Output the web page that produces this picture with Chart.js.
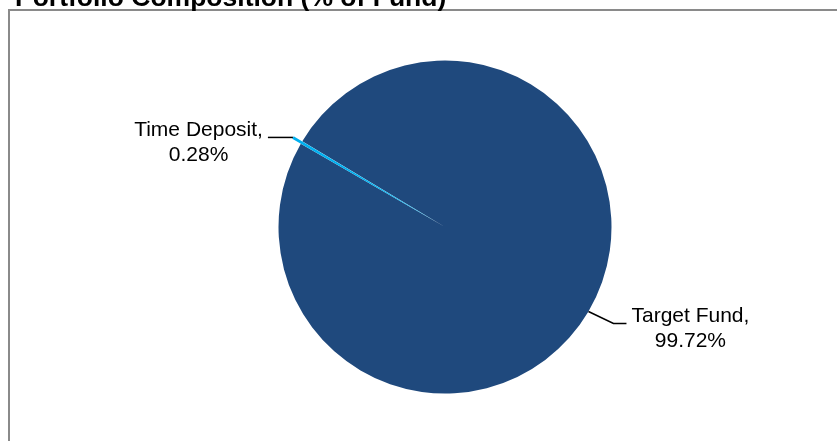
<!DOCTYPE html>
<html>
<head>
<meta charset="utf-8">
<script src="https://cdn.jsdelivr.net/npm/chart.js@4.4.1/dist/chart.umd.min.js"></script>
<style>
  html, body { margin: 0; padding: 0; background: #fff; overflow: hidden; }
  #wrap { position: relative; width: 837px; height: 441px; overflow: hidden; }
  #frame { position: absolute; left: 8px; top: 9px; width: 900px; height: 500px;
           border-left: 2px solid #8a8a8a; border-top: 2px solid #8a8a8a; }
  #chart { position: absolute; left: 0; top: 0; }
</style>
</head>
<body>
<div id="wrap">
  <div id="frame"></div>
  <canvas id="chart" width="837" height="441"></canvas>
</div>
<script>
const chartTitle = 'Portfolio Composition (% of Fund)';
const assetNames = ['Target Fund', 'Time Deposit'];
const assetShares = [99.72, 0.28];
const sliceColors = ['#1F497D', '#00B0F0'];

const FONT = '"Liberation Sans", Arial, sans-serif';
const pullOut = [0, 10];                // px the slice is moved out
const leaderElbow = [[25, 12], [0, 0]]; // first leg of the leader line
const leaderRun = [13, 25];             // horizontal leg

// title is clipped by the top of the frame
const titlePlugin = {
  id: 'sheetTitle',
  afterDraw(chart) {
    const ctx = chart.ctx;
    ctx.save();
    ctx.font = 'bold 26.5px ' + FONT;
    ctx.fillStyle = '#000';
    ctx.textAlign = 'left';
    ctx.textBaseline = 'alphabetic';
    ctx.fillText(chartTitle, 15, 6);
    ctx.restore();
  }
};

// explode slices by moving the whole wedge; the built-in offset
// also thins the arc, which makes a tiny slice vanish
const explode = {
  id: 'explode',
  afterDatasetUpdate(chart, args) {
    const meta = chart.getDatasetMeta(args.index);
    meta.data.forEach((arc, i) => {
      const mid = (arc.startAngle + arc.endAngle) / 2;
      arc.x += Math.cos(mid) * pullOut[i];
      arc.y += Math.sin(mid) * pullOut[i];
    });
  }
};

// "Name," / "xx.xx%" labels with leader lines
const leaderLabels = {
  id: 'leaderLabels',
  afterDatasetsDraw(chart) {
    const ctx = chart.ctx;
    const meta = chart.getDatasetMeta(0);
    ctx.save();
    ctx.font = '21px ' + FONT;
    ctx.fillStyle = '#000';
    ctx.strokeStyle = '#000';
    ctx.lineWidth = 1.5;
    ctx.textAlign = 'center';
    ctx.textBaseline = 'middle';
    meta.data.forEach((arc, i) => {
      const mid = (arc.startAngle + arc.endAngle) / 2;
      const px = arc.x + Math.cos(mid) * arc.outerRadius;
      const py = arc.y + Math.sin(mid) * arc.outerRadius;
      const dir = Math.cos(mid) >= 0 ? 1 : -1;
      const bx = px + dir * leaderElbow[i][0];
      const by = py + leaderElbow[i][1];
      const ex = bx + dir * leaderRun[i];
      ctx.beginPath();
      ctx.moveTo(px, py);
      ctx.lineTo(bx, by);
      ctx.lineTo(ex, by);
      ctx.stroke();

      const line1 = assetNames[i] + ',';
      const line2 = assetShares[i].toFixed(2) + '%';
      const w = Math.max(ctx.measureText(line1).width, ctx.measureText(line2).width);
      const cx = ex + dir * (5 + w / 2);
      ctx.fillText(line1, cx, by - 7);
      ctx.fillText(line2, cx, by + 18);
    });
    ctx.restore();
  }
};

new Chart(document.getElementById('chart'), {
  type: 'pie',
  data: {
    labels: assetNames,
    datasets: [{
      data: assetShares,
      backgroundColor: sliceColors,
      borderWidth: 0,
      rotation: -59,
      radius: 166.5
    }]
  },
  options: {
    responsive: false,
    animation: false,
    devicePixelRatio: 1,
    rotation: -59,
    radius: 166.5,
    layout: { padding: { left: 53, top: 13, right: 0, bottom: 0 } },
    plugins: {
      legend: { display: false },
      tooltip: { enabled: false }
    }
  },
  plugins: [explode, titlePlugin, leaderLabels]
});
</script>
</body>
</html>
